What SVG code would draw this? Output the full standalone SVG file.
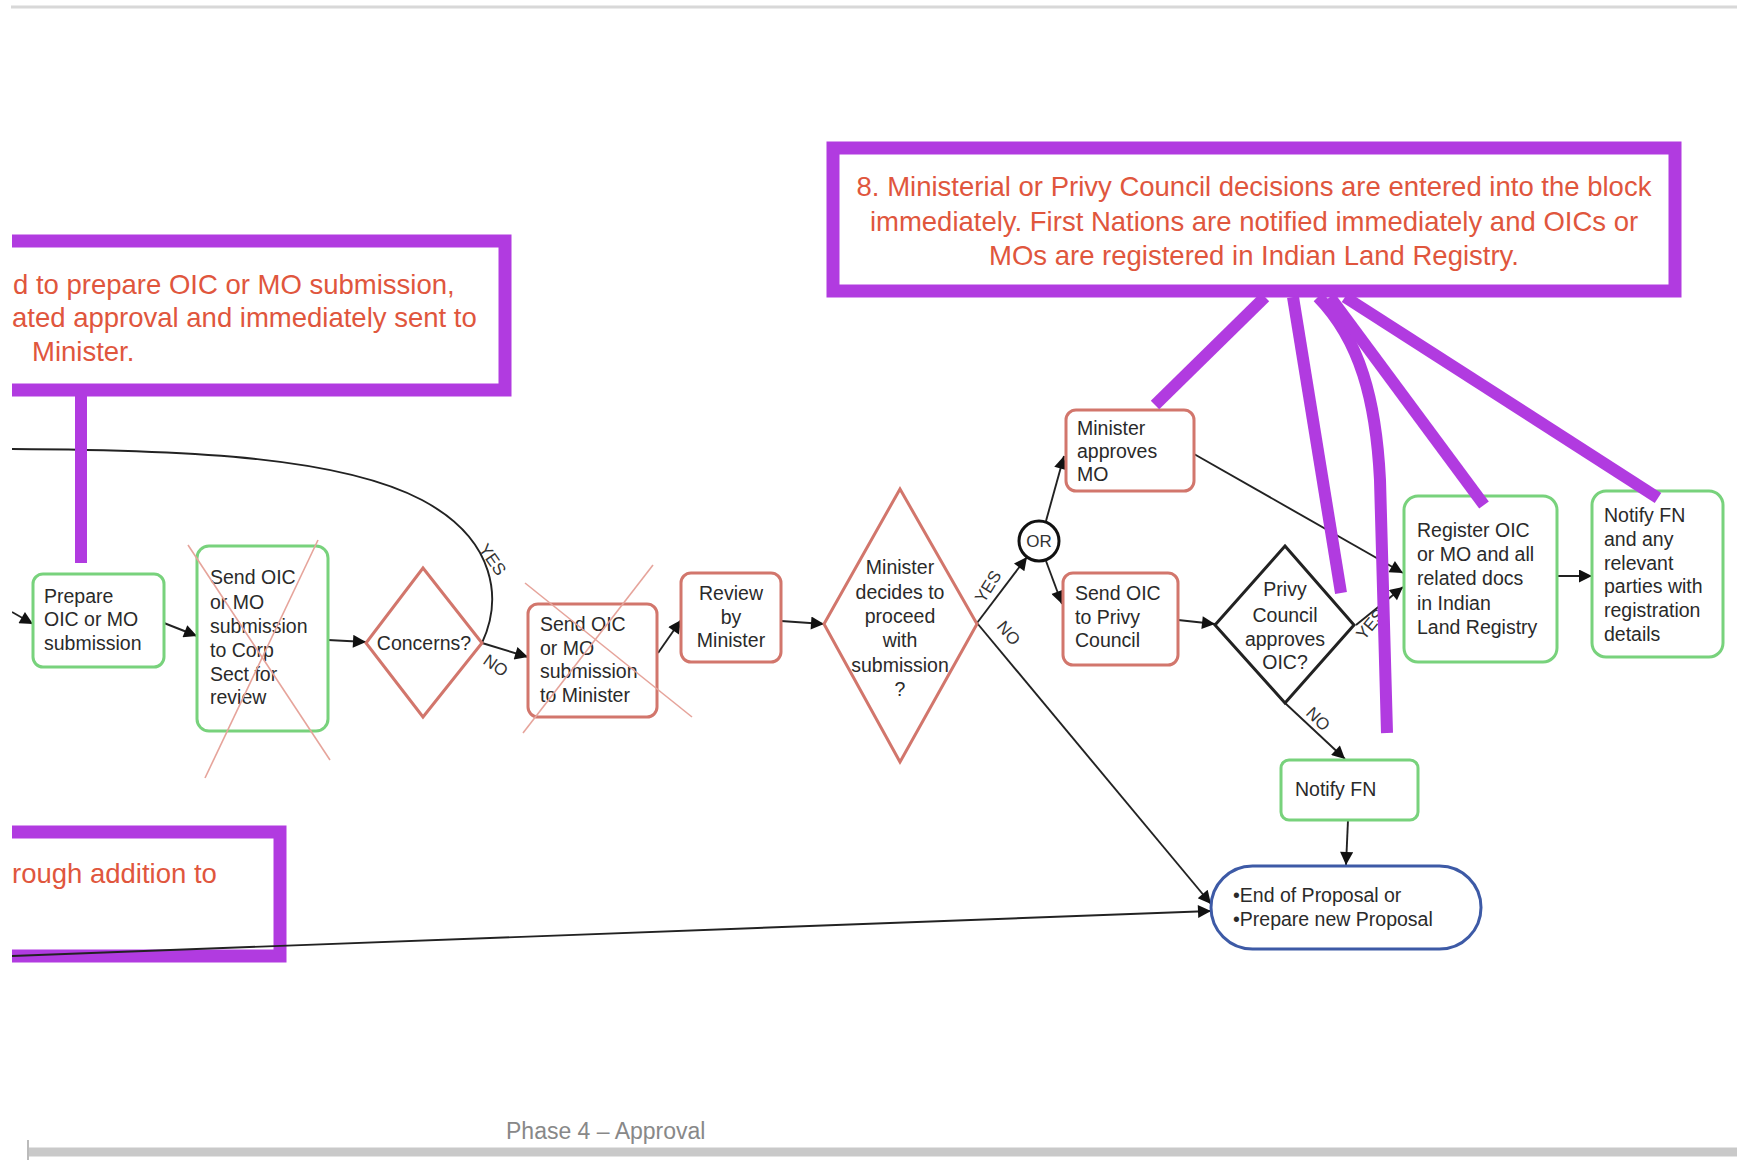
<svg xmlns="http://www.w3.org/2000/svg" width="1737" height="1163" viewBox="0 0 1737 1163">
  <defs>
    <style>
      .call{fill:none;stroke:#b13be0;stroke-width:13}
      .callt{font-family:"Liberation Sans",Arial,sans-serif;font-size:27.5px;fill:#e0563d}
      .lead{stroke:#b13be0;stroke-width:12;fill:none}
      .g{fill:#fff;stroke:#78d27c;stroke-width:3}
      .r{fill:#fff;stroke:#d2766c;stroke-width:3}
      .k{fill:#fff;stroke:#222;stroke-width:3}
      .b{fill:#fff;stroke:#3d5aa6;stroke-width:3}
      .t{font-family:"Liberation Sans",Arial,sans-serif;font-size:19.5px;fill:#2a2a2a}
      .tc{text-anchor:middle}
      .c{fill:none;stroke:#222;stroke-width:1.9}
      .x{stroke:#e6a49b;stroke-width:1.6}
      .lab{font-family:"Liberation Sans",Arial,sans-serif;font-size:17px;fill:#333}
    </style>
    <marker id="ah" viewBox="0 0 10 10" refX="10" refY="5" markerWidth="18" markerHeight="13" markerUnits="userSpaceOnUse" orient="auto">
      <path d="M0,0 L10,5 L0,10 z" fill="#111"/>
    </marker>
    <clipPath id="page"><rect x="12" y="0" width="1725" height="1163"/></clipPath>
  </defs>

  <rect width="1737" height="1163" fill="#fff"/>

  <!-- page rules -->
  <line x1="11" y1="7" x2="1737" y2="7" stroke="#d8d8d8" stroke-width="3"/>
  <line x1="28" y1="1152" x2="1737" y2="1152" stroke="#c9c9c9" stroke-width="9"/>
  <line x1="28" y1="1140" x2="28" y2="1160" stroke="#bbb" stroke-width="2"/>
  <text x="506" y="1139" font-family="'Liberation Sans',Arial,sans-serif" font-size="23" fill="#888">Phase 4 – Approval</text>

  <g clip-path="url(#page)">
    <!-- callout boxes -->
    <g id="note-prepare">
      <rect class="call" x="4" y="241" width="501" height="149"/>
      <text class="callt" x="13" y="294">d to prepare OIC or MO submission,</text>
      <text class="callt" x="12" y="327">ated approval and immediately sent to</text>
      <text class="callt" x="32" y="361">Minister.</text>
    </g>
    <g id="note-decisions">
      <rect class="call" x="833" y="148" width="842" height="143"/>
      <text class="callt tc" x="1254" y="196">8. Ministerial or Privy Council decisions are entered into the block</text>
      <text class="callt tc" x="1254" y="231">immediately.  First Nations are notified immediately and OICs or</text>
      <text class="callt tc" x="1254" y="265">MOs are registered in Indian Land Registry.</text>
    </g>
    <g id="note-addition">
      <rect class="call" x="4" y="832" width="276" height="124"/>
      <text class="callt" x="12" y="883">rough addition to</text>
    </g>

    <!-- connectors -->
    <g id="connectors">
      <line class="c" x1="12" y1="612" x2="33" y2="624" marker-end="url(#ah)"/>
      <line class="c" x1="164" y1="623" x2="197" y2="636" marker-end="url(#ah)"/>
      <line class="c" x1="328" y1="640" x2="366" y2="642" marker-end="url(#ah)"/>
      <path class="c" d="M482,643 C502,600 497,540 422,500 C342,458 200,450 10,449"/>
      <line class="c" x1="482" y1="643" x2="528" y2="657" marker-end="url(#ah)"/>
      <line class="c" x1="658" y1="653" x2="681" y2="620" marker-end="url(#ah)"/>
      <line class="c" x1="781" y1="621" x2="824" y2="624" marker-end="url(#ah)"/>
      <line class="c" x1="977" y1="623" x2="1027" y2="557" marker-end="url(#ah)"/>
      <line class="c" x1="977" y1="623" x2="1211" y2="904" marker-end="url(#ah)"/>
      <line class="c" x1="1046" y1="521" x2="1064" y2="456" marker-end="url(#ah)"/>
      <line class="c" x1="1046" y1="561" x2="1062" y2="604" marker-end="url(#ah)"/>
      <line class="c" x1="1178" y1="620" x2="1215" y2="624" marker-end="url(#ah)"/>
      <line class="c" x1="1194" y1="454" x2="1403" y2="573" marker-end="url(#ah)"/>
      <line class="c" x1="1356" y1="625" x2="1403" y2="587" stroke="#999" marker-end="url(#ah)"/>
      <line class="c" x1="1285" y1="703" x2="1345" y2="759" marker-end="url(#ah)"/>
      <line class="c" x1="1348" y1="820" x2="1346" y2="865" marker-end="url(#ah)"/>
      <line class="c" x1="1557" y1="576" x2="1592" y2="576" marker-end="url(#ah)"/>
      <line class="c" x1="10" y1="956" x2="1211" y2="911" marker-end="url(#ah)"/>

      <text class="lab" transform="translate(478,549) rotate(55)">YES</text>
      <text class="lab" transform="translate(482,663) rotate(35)">NO</text>
      <text class="lab" transform="translate(984,604) rotate(-58)">YES</text>
      <text class="lab" transform="translate(996,627) rotate(50)">NO</text>
      <text class="lab" fill="#aaa" transform="translate(1364,641) rotate(-50)">YES</text>
      <text class="lab" transform="translate(1305,714) rotate(45)">NO</text>
    </g>

    <!-- nodes -->
    <g id="prepare">
      <rect class="g" x="33" y="574" width="131" height="93" rx="10"/>
      <text class="t" x="44" y="603">Prepare</text>
      <text class="t" x="44" y="626">OIC or MO</text>
      <text class="t" x="44" y="650">submission</text>
    </g>
    <g id="send-corp-sect">
      <rect class="g" x="197" y="546" width="131" height="185" rx="12"/>
      <text class="t" x="210" y="584">Send OIC</text>
      <text class="t" x="210" y="609">or MO</text>
      <text class="t" x="210" y="633">submission</text>
      <text class="t" x="210" y="657">to Corp</text>
      <text class="t" x="210" y="681">Sect for</text>
      <text class="t" x="210" y="704">review</text>
      <line class="x" x1="188" y1="545" x2="330" y2="760"/>
      <line class="x" x1="318" y1="540" x2="205" y2="778"/>
    </g>
    <g id="concerns">
      <polygon class="r" points="423,568 482,643 423,717 366,643"/>
      <text class="t tc" x="424" y="650">Concerns?</text>
    </g>
    <g id="send-minister">
      <rect class="r" x="528" y="604" width="129" height="113" rx="10"/>
      <text class="t" x="540" y="631">Send OIC</text>
      <text class="t" x="540" y="655">or MO</text>
      <text class="t" x="540" y="678">submission</text>
      <text class="t" x="540" y="702">to Minister</text>
      <line class="x" x1="525" y1="583" x2="692" y2="717"/>
      <line class="x" x1="653" y1="565" x2="523" y2="733"/>
    </g>
    <g id="review">
      <rect class="r" x="681" y="573" width="100" height="89" rx="10"/>
      <text class="t tc" x="731" y="600">Review</text>
      <text class="t tc" x="731" y="624">by</text>
      <text class="t tc" x="731" y="647">Minister</text>
    </g>
    <g id="minister-decides">
      <polygon class="r" points="900,489 977,624 900,762 824,624"/>
      <text class="t tc" x="900" y="574">Minister</text>
      <text class="t tc" x="900" y="599">decides to</text>
      <text class="t tc" x="900" y="623">proceed</text>
      <text class="t tc" x="900" y="647">with</text>
      <text class="t tc" x="900" y="672">submission</text>
      <text class="t tc" x="900" y="696">?</text>
    </g>
    <g id="or">
      <circle cx="1039" cy="541" r="20" fill="#fff" stroke="#111" stroke-width="3"/>
      <text class="lab tc" x="1039" y="547" font-size="15">OR</text>
    </g>
    <g id="minister-approves">
      <rect class="r" x="1066" y="410" width="128" height="81" rx="10"/>
      <text class="t" x="1077" y="435">Minister</text>
      <text class="t" x="1077" y="458">approves</text>
      <text class="t" x="1077" y="481">MO</text>
    </g>
    <g id="send-privy">
      <rect class="r" x="1063" y="573" width="115" height="92" rx="10"/>
      <text class="t" x="1075" y="600">Send OIC</text>
      <text class="t" x="1075" y="624">to Privy</text>
      <text class="t" x="1075" y="647">Council</text>
    </g>
    <g id="privy-approves">
      <polygon class="k" points="1285,546 1354,625 1285,703 1215,625"/>
      <text class="t tc" x="1285" y="596">Privy</text>
      <text class="t tc" x="1285" y="622">Council</text>
      <text class="t tc" x="1285" y="646">approves</text>
      <text class="t tc" x="1285" y="669">OIC?</text>
    </g>
    <g id="register">
      <rect class="g" x="1404" y="496" width="153" height="166" rx="14"/>
      <text class="t" x="1417" y="537">Register OIC</text>
      <text class="t" x="1417" y="561">or MO and all</text>
      <text class="t" x="1417" y="585">related docs</text>
      <text class="t" x="1417" y="610">in Indian</text>
      <text class="t" x="1417" y="634">Land Registry</text>
    </g>
    <g id="notify-parties">
      <rect class="g" x="1592" y="491" width="131" height="166" rx="14"/>
      <text class="t" x="1604" y="522">Notify FN</text>
      <text class="t" x="1604" y="546">and any</text>
      <text class="t" x="1604" y="570">relevant</text>
      <text class="t" x="1604" y="593">parties with</text>
      <text class="t" x="1604" y="617">registration</text>
      <text class="t" x="1604" y="641">details</text>
    </g>
    <g id="notify-fn">
      <rect class="g" x="1281" y="760" width="137" height="60" rx="8"/>
      <text class="t" x="1295" y="796">Notify FN</text>
    </g>
    <g id="end">
      <rect class="b" x="1211" y="866" width="270" height="83" rx="41.5"/>
      <text class="t" x="1233" y="902">•End  of  Proposal or</text>
      <text class="t" x="1233" y="926">•Prepare new Proposal</text>
    </g>

    <!-- leader lines from the notes -->
    <g id="leaders">
      <line class="lead" x1="81" y1="393" x2="81" y2="563"/>
      <line class="lead" x1="1265" y1="297" x2="1155" y2="405"/>
      <line class="lead" x1="1293" y1="297" x2="1341" y2="593"/>
      <path class="lead" d="M1318,297 C1360,340 1376,400 1380,480 L1387,733"/>
      <line class="lead" x1="1330" y1="297" x2="1484" y2="505"/>
      <line class="lead" x1="1345" y1="297" x2="1658" y2="498"/>
    </g>
  </g>
</svg>
